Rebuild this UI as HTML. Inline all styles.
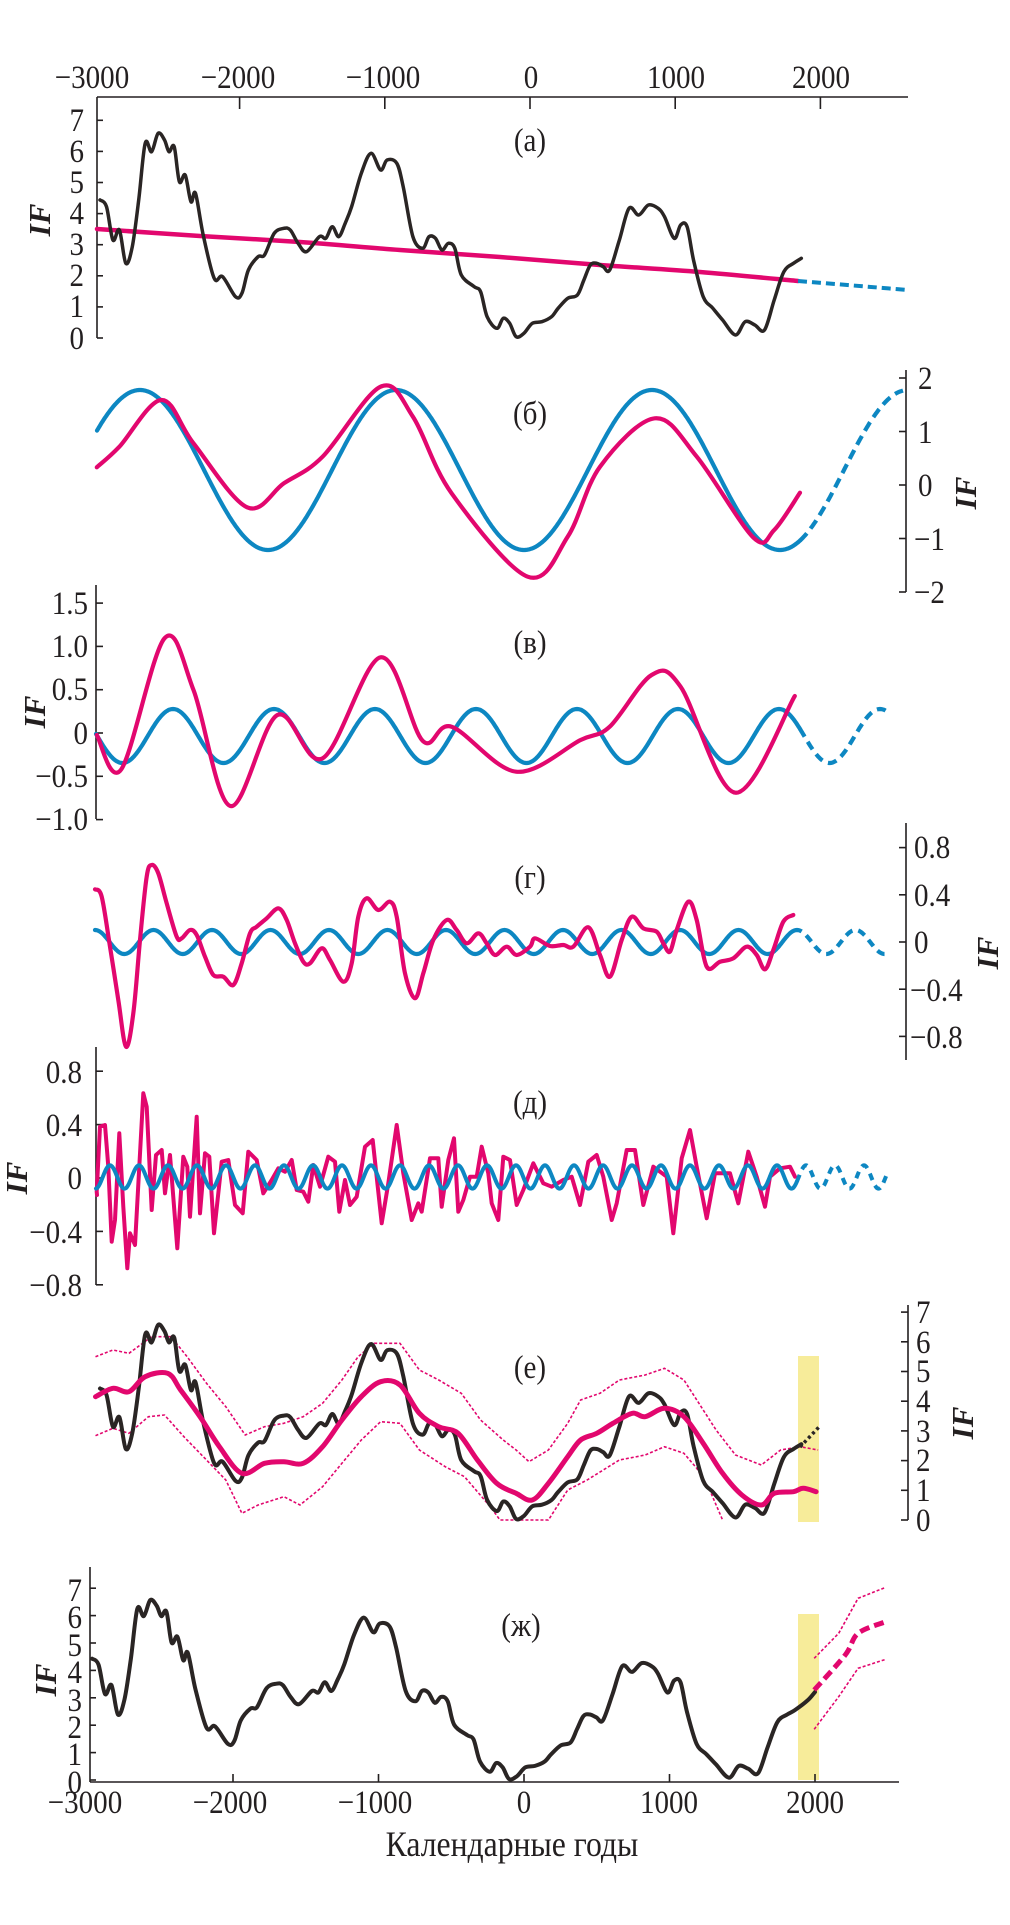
<!DOCTYPE html>
<html><head><meta charset="utf-8">
<style>
html,body{margin:0;padding:0;background:#fff;}
svg{display:block;}
text{font-family:"Liberation Serif",serif;font-size:33px;fill:#231f20;}
.if{font-style:italic;font-weight:bold;font-size:31px;}
</style></head>
<body>
<svg id="s" width="1010" height="1925" viewBox="0 0 1010 1925" xmlns="http://www.w3.org/2000/svg">
<rect width="1010" height="1925" fill="#fff"/>
<rect x="798" y="1356" width="21" height="166" fill="#f7ec9a"/>
<rect x="798" y="1614" width="21" height="166" fill="#f7ec9a"/>
<g id="axes" stroke="#231f20" stroke-width="1.6" fill="none"></g>
<g id="curves" fill="none" stroke-linejoin="round" stroke-linecap="round"></g>
<g text-anchor="middle">
<text x="92" y="88">−3000</text><text x="238" y="88">−2000</text><text x="383" y="88">−1000</text>
<text x="531" y="88">0</text><text x="676" y="88">1000</text><text x="821" y="88">2000</text>
</g>
<g text-anchor="end">
<text x="84" y="131">7</text><text x="84" y="162">6</text><text x="84" y="193">5</text><text x="84" y="224">4</text>
<text x="84" y="255">3</text><text x="84" y="286">2</text><text x="84" y="317">1</text><text x="84" y="349">0</text>
</g>
<text class="if" transform="translate(50,220) rotate(-90)" text-anchor="middle">IF</text>
<text x="530" y="151" text-anchor="middle">(a)</text>
<g text-anchor="start">
<text x="918" y="389">2</text><text x="918" y="443">1</text><text x="918" y="496">0</text>
<text x="914" y="550">−1</text><text x="914" y="603">−2</text>
</g>
<text class="if" transform="translate(976,493) rotate(-90)" text-anchor="middle">IF</text>
<text x="530" y="424" text-anchor="middle">(б)</text>
<g text-anchor="end">
<text x="88" y="614">1.5</text><text x="88" y="657">1.0</text><text x="88" y="700">0.5</text>
<text x="88" y="744">0</text><text x="88" y="787">−0.5</text><text x="88" y="830">−1.0</text>
</g>
<text class="if" transform="translate(45,712) rotate(-90)" text-anchor="middle">IF</text>
<text x="530" y="653" text-anchor="middle">(в)</text>
<g text-anchor="start">
<text x="914" y="858">0.8</text><text x="914" y="906">0.4</text><text x="914" y="953">0</text>
<text x="910" y="1001">−0.4</text><text x="910" y="1048">−0.8</text>
</g>
<text class="if" transform="translate(998,953) rotate(-90)" text-anchor="middle">IF</text>
<text x="530" y="888" text-anchor="middle">(г)</text>
<g text-anchor="end">
<text x="82" y="1083">0.8</text><text x="82" y="1136">0.4</text><text x="82" y="1189">0</text>
<text x="82" y="1243">−0.4</text><text x="82" y="1296">−0.8</text>
</g>
<text class="if" transform="translate(27,1178) rotate(-90)" text-anchor="middle">IF</text>
<text x="530" y="1113" text-anchor="middle">(д)</text>
<g text-anchor="start">
<text x="916" y="1323">7</text><text x="916" y="1353">6</text><text x="916" y="1382">5</text><text x="916" y="1412">4</text>
<text x="916" y="1442">3</text><text x="916" y="1471">2</text><text x="916" y="1501">1</text><text x="916" y="1531">0</text>
</g>
<text class="if" transform="translate(973,1423) rotate(-90)" text-anchor="middle">IF</text>
<text x="530" y="1378" text-anchor="middle">(е)</text>
<g text-anchor="end">
<text x="82" y="1601">7</text><text x="82" y="1628">6</text><text x="82" y="1656">5</text><text x="82" y="1683">4</text>
<text x="82" y="1711">3</text><text x="82" y="1738">2</text><text x="82" y="1765">1</text><text x="82" y="1793">0</text>
</g>
<text class="if" transform="translate(56,1680) rotate(-90)" text-anchor="middle">IF</text>
<text x="521" y="1636" text-anchor="middle">(ж)</text>
<g text-anchor="middle">
<text x="85" y="1813">−3000</text><text x="230" y="1813">−2000</text><text x="375" y="1813">−1000</text>
<text x="524" y="1813">0</text><text x="669" y="1813">1000</text><text x="815" y="1813">2000</text>
</g>
<text x="512" y="1856" text-anchor="middle" style="font-size:36px">Календарные годы</text>
</svg>
<script>
(function(){
var NS="http://www.w3.org/2000/svg";
var F=1.55, PINK="#e2076e", BLUE="#0d87c2", BLK="#2a2524";
var ax=document.getElementById('axes'), cv=document.getElementById('curves');
function el(parent,tag,attrs){var e=document.createElementNS(NS,tag);for(var k in attrs)e.setAttribute(k,attrs[k]);parent.appendChild(e);return e;}
function line(x1,y1,x2,y2){el(ax,'line',{x1:x1,y1:y1,x2:x2,y2:y2});}
function poly(pts){return 'M'+pts.map(function(p){return p[0].toFixed(1)+','+p[1].toFixed(1);}).join('L');}
function smooth(p){var d='M'+p[0][0].toFixed(1)+','+p[0][1].toFixed(1);
 for(var i=0;i<p.length-1;i++){var p0=p[i?i-1:0],p1=p[i],p2=p[i+1],p3=p[i+2<p.length?i+2:i+1];
  d+='C'+(p1[0]+(p2[0]-p0[0])/6).toFixed(1)+','+(p1[1]+(p2[1]-p0[1])/6).toFixed(1)+' '+(p2[0]-(p3[0]-p1[0])/6).toFixed(1)+','+(p2[1]-(p3[1]-p1[1])/6).toFixed(1)+' '+p2[0].toFixed(1)+','+p2[1].toFixed(1);}
 return d;}
function path(d,col,w,dash){var a={d:d,stroke:col,'stroke-width':w};if(dash){a['stroke-dasharray']=dash;a['stroke-linecap']='butt';}el(cv,'path',a);}
function sine(x0,x1,c,A,peak,per){var p=[];for(var x=x0;x<=x1;x+=1)p.push([x,c-A*Math.cos(2*Math.PI*(x-peak)/per)]);return poly(p);}

/* condense text */
var ts=document.querySelectorAll('text');
for(var i=0;i<ts.length;i++){var t=ts[i];if(t.getAttribute('class')==='if')continue;
 try{var L=t.getComputedTextLength();if(L>0){t.setAttribute('textLength',(L*0.88).toFixed(1));t.setAttribute('lengthAdjust','spacingAndGlyphs');}}catch(e){}}

line(97,97,908,97);line(97,97,97,338);
[-2000,-1000,0,1000,2000].forEach(function(y){var x=530+y*0.1452;line(x,97,x,109);});
for(var v=0;v<=7;v++){var y=338-v*31.1;line(97,y,103,y);}
line(906,370,906,592);[2,1,0,-1,-2].forEach(function(v){var y=485-v*53.5;line(899,y,906,y);});
line(96,585,96,819);[1.5,1,0.5,0,-0.5,-1].forEach(function(v){var y=733-v*86.6;line(96,y,103,y);});
line(906,823,906,1060);[0.8,0.4,0,-0.4,-0.8].forEach(function(v){var y=942-v*118;line(899,y,906,y);});
line(96,1047,96,1285);[0.8,0.4,0,-0.4,-0.8].forEach(function(v){var y=1178-v*133.5;line(96,y,103,y);});
line(908,1305,908,1520);for(v=0;v<=7;v++){y=1520-v*29.7;line(901,y,908,y);}
line(90,1567,90,1782);line(90,1782,899,1782);
for(v=0;v<=7;v++){y=1780-v*27.4;line(90,y,96,y);}
[-2000,-1000,0,1000,2000].forEach(function(yr){var x=524+yr*0.1455;line(x,1782,x,1774);});

var B=[[155,600],[165,620],[175,720],[185,690],[195,790],[205,740],[215,600],[225,430],[235,455],[245,400],[255,420],[262,455],[270,440],[278,545],[287,525],[296,605],[303,580],[315,705],[332,835],[345,830],[365,890],[375,880],[385,810],[400,770],[410,765],[425,700],[440,685],[450,690],[462,730],[475,755],[495,710],[505,715],[515,680],[525,710],[535,670],[545,620],[560,520],[575,460],[590,510],[600,480],[615,490],[625,560],[640,710],[655,745],[665,710],[675,715],[685,750],[695,730],[705,745],[715,825],[735,860],[745,875],[755,950],[770,985],[780,955],[790,970],[800,1010],[812,1000],[825,970],[840,965],[855,950],[865,925],[880,895],[895,885],[905,840],[915,795],[925,790],[935,800],[945,810],[960,720],[975,625],[990,645],[1005,615],[1020,625],[1030,650],[1045,715],[1055,675],[1065,680],[1075,780],[1090,890],[1105,925],[1120,960],[1140,1005],[1155,965],[1170,975],[1185,990],[1200,900],[1215,815],[1230,790],[1242,775]];
function yr(zx){return (zx-823)*4.444;} function val(zy){return (1013-zy)/93.3;}
var Ba=B.map(function(p){return [p[0]/F,p[1]/3];});
var Be=B.map(function(p){return [p[0]/F,1520-val(p[1])*29.7];});
var Bz=B.map(function(p){return [524+yr(p[0])*0.1455,1780-val(p[1])*27.4];});
Bz.push([808,1700],[815,1692]);

path(smooth([[97,229],[200,236],[300,242],[400,250],[500,257],[600,265],[700,272],[798,281]]),PINK,4.5);
path('M798,281L908,290',BLUE,4,'9 5');
path(smooth(Ba),BLK,3.5);

path(sine(97,800,470,80,140,256),BLUE,4.2);
path(sine(800,903,470,80,140,256),BLUE,4.2,'10 6');
var Pb=[[150,352],[185,290],[250,150],[300,280],[383,472],[440,400],[500,320],[590,110],[640,200],[700,430],[818,680],[880,560],[930,350],[1015,205],[1080,320],[1168,563],[1200,540],[1240,428]].map(function(p){return [p[0]/F,350+p[1]/3];});
path(smooth(Pb),PINK,4.2);

path(sine(96,800,736,27,173,101),BLUE,4.2);
path(sine(800,890,736,27,173,101),BLUE,4.2,'9 6');
var Pv=[[150,465],[188,568],[255,175],[300,330],[357,678],[430,405],[500,535],[590,232],[655,482],[700,440],[800,575],[900,480],[945,440],[1010,285],[1055,320],[1140,638],[1232,348]].map(function(p){return [p[0]/F,580+p[1]/3];});
path(smooth(Pv),PINK,4.2);

path(sine(95,794,942,12,95,58.5),BLUE,4.2);
path(sine(794,888,942,12,95,58.5),BLUE,4.2,'8 6');
var g1=[[15,148],[35,170],[60,320],[85,480],[108,620],[130,520],[150,300],[170,110],[185,75],[205,100],[230,190],[260,290],[275,295],[300,270],[320,285],[345,350],[370,405],[400,410],[430,435],[455,370],[480,280],[500,260],[530,235],[565,205],[590,240],[615,310],[640,365],[660,370],[695,325],[720,360],[760,425],[785,370],[805,230],[830,175],[865,210],[900,185],[920,230],[945,400],[975,475],[1000,400],[1030,300],[1070,240],[1100,270],[1130,310],[1165,280],[1190,310],[1215,345]].map(function(p){return [90+p[0]/3,840+p[1]/3];});
var g2=[[20,320],[50,345],[90,320],[105,295],[150,318],[190,315],[220,320],[265,262],[300,345],[330,410],[365,300],[395,230],[430,265],[470,275],[490,310],[510,335],[530,270],[565,185],[590,240],[620,380],[660,365],[700,355],[740,320],[770,345],[795,388],[820,330],[850,245],[880,225]].map(function(p){return [500+p[0]/3,840+p[1]/3];});
path(smooth(g1.concat(g2)),PINK,4.2);

var d1=[[20,335],[30,140],[45,135],[55,260],[65,485],[75,420],[88,160],[100,380],[112,565],[120,460],[135,495],[160,40],[170,80],[185,390],[198,225],[215,210],[225,340],[240,225],[262,505],[280,230],[292,260],[300,410],[320,110],[330,400],[345,220],[358,230],[372,460],[395,245],[415,240],[435,375],[458,400],[475,215],[500,240],[520,340],[545,300],[565,265],[585,275],[605,240],[620,330],[640,335],[655,365],[670,255],[690,320],[715,230],[735,245],[748,395],[765,300],[780,375],[800,350],[825,200],[848,180],[875,430],[895,310],[920,135],[940,280],[965,420],[985,370],[995,395],[1020,235],[1045,235],[1055,380],[1075,240],[1092,175],[1105,395],[1120,360],[1140,290],[1160,290],[1175,200],[1195,280],[1205,370],[1225,420]].map(function(p){return [90+p[0]/3,1080+p[1]/3];});
var d2=[[10,230],[30,240],[50,375],[70,330],[100,250],[130,310],[155,320],[190,300],[215,290],[240,375],[265,245],[290,225],[310,290],[335,420],[350,370],[380,210],[405,210],[430,375],[460,260],[500,290],[520,460],[545,235],[570,150],[590,260],[620,415],[645,280],[690,280],[715,370],[745,215],[770,290],[795,380],[810,290],[840,265],[870,260],[885,290]].map(function(p){return [500+p[0]/3,1080+p[1]/3];});
path(poly([[97,1195]].concat(d1,d2)),PINK,4);
path(sine(96,797,1177,11.7,110,29),BLUE,4);
path(sine(797,888,1177,11.7,110,29),BLUE,4,'7 6');

function zz(arr){return arr.map(function(p){return [p[0]/F,1290+p[1]/3];});}
var eu=zz([[148,200],[175,180],[200,190],[235,140],[265,140],[290,200],[320,280],[350,350],[380,435],[410,410],[440,400],[470,380],[500,340],[530,270],[555,200],[580,160],[620,160],[650,240],[680,270],[715,310],[745,390],[780,450],[800,480],[820,515],[850,480],[880,400],[900,330],[930,310],[960,270],[1000,255],[1030,235],[1060,270],[1080,330],[1110,420],[1140,495],[1180,525],[1210,480],[1240,470],[1268,480]]);
var el_=zz([[148,437],[175,415],[200,430],[230,380],[255,375],[285,440],[320,510],[350,570],[375,670],[400,645],[440,620],[465,645],[500,590],[530,520],[560,450],[590,395],[620,400],[650,480],[690,530],[720,560],[760,650],[775,690],[850,690],[880,600],[910,570],[960,510],[1000,495],[1030,470],[1060,490],[1080,535],[1100,600],[1120,690]]);
var em=zz([[148,320],[175,295],[200,305],[225,260],[260,250],[280,300],[310,380],[340,470],[375,550],[410,520],[440,515],[470,520],[500,470],[530,390],[560,320],[590,275],[620,285],[650,370],[680,410],[710,430],[740,510],[770,580],[800,610],[825,630],[850,580],[880,500],[900,450],[925,430],[950,400],[980,370],[1000,380],[1030,355],[1060,380],[1090,460],[1120,550],[1150,615],[1180,645],[1200,610],[1230,605],[1245,595],[1265,605]]);
path(poly(eu),PINK,1.6,'3 2');
path(poly(el_),PINK,1.6,'3 2');
path(smooth(Be),BLK,4);
path('M800,1447L819,1427',BLK,3.5,'3 3');
path(smooth(em),PINK,5);

path(smooth(Bz),BLK,4);
function zj(arr){return arr.map(function(p){return [p[0]/F,1500+p[1]/3];});}
path(smooth(zj([[1262,570],[1310,465],[1330,400],[1373,365]])),PINK,5,'10 5');
path(poly(zj([[1262,475],[1300,400],[1330,295],[1373,262]])),PINK,1.6,'3 2');
path(poly(zj([[1262,688],[1300,590],[1330,505],[1373,478]])),PINK,1.6,'3 2');
})();
</script>
</body></html>
